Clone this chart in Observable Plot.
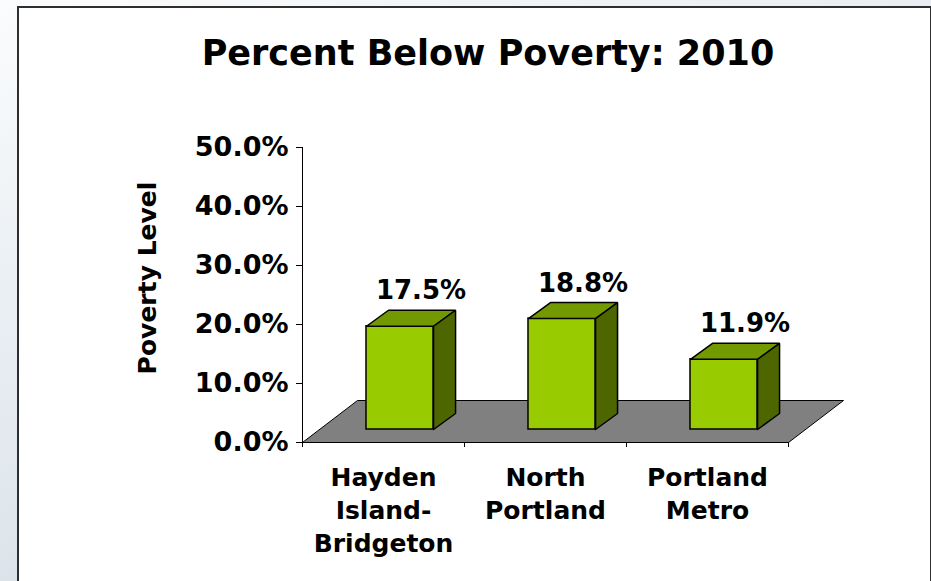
<!DOCTYPE html>
<html><head><meta charset="utf-8">
<script src="https://cdn.jsdelivr.net/npm/d3@7"></script>
<script src="https://cdn.jsdelivr.net/npm/@observablehq/plot@0.6"></script>
<style>
html,body{margin:0;padding:0;width:931px;height:581px;overflow:hidden;}
body{background:linear-gradient(160deg,#fbfcfd 0%,#e6ecf1 40%,#cdd8e1 100%);font-family:"DejaVu Sans",sans-serif;}
#box{position:absolute;left:17px;top:6px;width:911px;height:600px;background:#fff;border:2px solid #2e2e2e;}
#title{margin:0;padding:25px 0 0 27px;height:41px;line-height:41px;text-align:center;font-size:35px;font-weight:bold;color:#000;white-space:nowrap;}
#chart svg{display:block}
</style></head>
<body><div id="box"><div id="title">Percent Below Poverty: 2010</div><div id="chart"></div></div>
<script>
const categories = ["Hayden\nIsland-\nBridgeton", "North\nPortland", "Portland\nMetro"];
const values = [0.175, 0.188, 0.119];
const yTicks = [0, 0.1, 0.2, 0.3, 0.4, 0.5];
const yTitle = "Poverty Level";

// layout geometry (pixels per data unit of the frame)
const PX = 162, PY = 590;
const FDX = 55 / PX, FDY = 42 / PY;       // floor depth
const B0 = 0.395, B1 = 0.809;             // bar front face within category
const BB = 13 / PY;                        // bar front bottom (mid-depth)
const BDX = 22 / PX, BDY = 16 / PY;        // bar depth

const n = categories.length;
const floor = [[0,0],[n,0],[n+FDX,FDY],[FDX,FDY],[0,0]].map(([x,y]) => ({x, y}));
const fronts = values.map((v, i) => ({i, x1: i + B0, x2: i + B1, y1: BB, y2: BB + v}));
const tops = fronts.flatMap(f => [[f.x1,f.y2],[f.x2,f.y2],[f.x2+BDX,f.y2+BDY],[f.x1+BDX,f.y2+BDY],[f.x1,f.y2]].map(([x,y]) => ({i: f.i, x, y})));
const sides = fronts.flatMap(f => [[f.x2,f.y1],[f.x2,f.y2],[f.x2+BDX,f.y2+BDY],[f.x2+BDX,f.y1+BDY],[f.x2,f.y1]].map(([x,y]) => ({i: f.i, x, y})));
const fmt = d3.format(".1%");
const labels = fronts.map((f, i) => ({x: (f.x1 + f.x2) / 2, y: f.y2, t: fmt(values[i])}));
const cats = categories.map((c, i) => ({x: i + 0.5, t: c}));

const chart = Plot.plot({
  width: 911, height: 507,
  marginLeft: 283, marginRight: 142, marginTop: 73, marginBottom: 139,
  style: {fontFamily: "DejaVu Sans", fontWeight: "bold", fontSize: "27px", color: "#000", background: "transparent", overflow: "visible"},
  x: {domain: [0, n], ticks: d3.range(n + 1), tickFormat: () => "", tickSize: 5, label: null},
  y: {domain: [0, 0.5], ticks: yTicks, tickFormat: fmt, tickSize: 6, tickPadding: 8, line: true, label: null},
  marks: [
    Plot.line(floor, {x: "x", y: "y", fill: "#808080", stroke: "#000", strokeWidth: 1}),
    Plot.rect(fronts, {x1: "x1", x2: "x2", y1: "y1", y2: "y2", fill: "#99cc00", stroke: "#000", strokeWidth: 1.5}),
    Plot.line(tops, {x: "x", y: "y", z: "i", fill: "#739900", stroke: "#000", strokeWidth: 1.5, strokeLinejoin: "miter"}),
    Plot.line(sides, {x: "x", y: "y", z: "i", fill: "#4d6600", stroke: "#000", strokeWidth: 1.5, strokeLinejoin: "miter"}),
    Plot.text(labels, {x: "x", y: "y", text: "t", dx: 21, dy: -27, lineAnchor: "bottom", fontSize: 26, fontWeight: "bold", fill: "#000"}),
    Plot.text(cats, {x: "x", y: () => 0, text: "t", dy: 20, lineAnchor: "top", lineHeight: 1.32, fontSize: 25, fontWeight: "bold", fill: "#000"}),
    Plot.text([yTitle], {frameAnchor: "left", text: d => d, rotate: -90, textAnchor: "middle", dx: -155, dy: -17, fontSize: 25, fontWeight: "bold", fill: "#000"})
  ]
});
document.getElementById("chart").appendChild(chart);
</script>
</body></html>
